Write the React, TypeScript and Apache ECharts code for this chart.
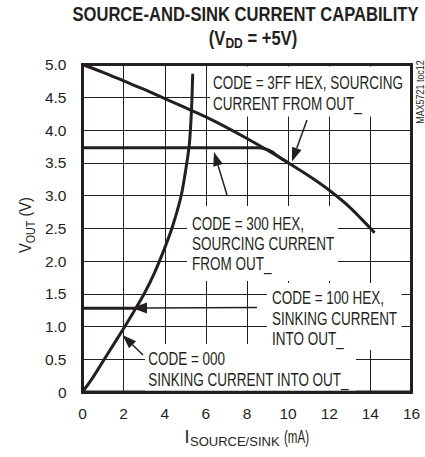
import React, { useEffect, useRef } from "react";
import * as echarts from "echarts";

const FONT = "'Liberation Sans', Arial, sans-serif";
const INK = "#231f20";

// Axis ranges
const xRange = [0, 16];
const yRange = [0, 5];

// CODE = 3FF HEX, sourcing current
const code3FF_I = [0, 1, 2, 3, 4, 5, 6, 7, 8, 9, 10, 11, 12, 13, 14, 14.2];
const code3FF_V = [5.0, 4.88, 4.75, 4.62, 4.48, 4.34, 4.2, 4.04, 3.87, 3.69, 3.5, 3.3, 3.08, 2.82, 2.5, 2.43];

// CODE = 300 HEX, sourcing current
const code300_I = [0, 8.5, 8.9, 9.2, 9.5, 9.8, 10.0];
const code300_V = [3.73, 3.73, 3.71, 3.67, 3.6, 3.54, 3.5];

// CODE = 100 HEX, sinking current
const code100_I = [0, 2.6];
const code100_V = [1.28, 1.28];

// CODE = 000, sinking current
const code000_I = [0, 0.5, 1, 1.5, 2, 2.5, 3, 3.5, 4, 4.4, 4.8, 5.05, 5.2, 5.3, 5.36];
const code000_V = [0, 0.22, 0.47, 0.72, 0.97, 1.23, 1.5, 1.82, 2.2, 2.55, 3.0, 3.45, 3.8, 4.3, 4.86];

const zip = (a: number[], b: number[]) => a.map((v, i) => [v, b[i]]);

function arrow(x1: number, y1: number, x2: number, y2: number, len = 14, half = 5) {
  const dx = x2 - x1, dy = y2 - y1;
  const d = Math.hypot(dx, dy);
  const ux = dx / d, uy = dy / d;
  const bx = x2 - ux * len, by = y2 - uy * len;
  const nx = -uy, ny = ux;
  return [
    { type: "line", z: 100, shape: { x1, y1, x2: bx, y2: by }, style: { stroke: INK, lineWidth: 1.5 } },
    {
      type: "polygon", z: 100,
      shape: { points: [[x2, y2], [bx + nx * half, by + ny * half], [bx - nx * half, by - ny * half]] },
      style: { fill: INK },
    },
  ];
}

function whiteBox(x: number, y: number, w: number, h: number) {
  return { type: "rect", z: 1, shape: { x, y, width: w, height: h }, style: { fill: "#fff" } };
}

function label(x: number, y: number, text: string, lh = 20.8) {
  return {
    type: "text", z: 100, x, y: y - lh / 2, scaleX: 0.75,
    style: { text, fill: INK, fontFamily: FONT, fontSize: 18, lineHeight: lh, textVerticalAlign: "top", textAlign: "left" },
  };
}

export default function App() {
  const ref = useRef<HTMLDivElement>(null);
  useEffect(() => {
    if (!ref.current) return;
    const chart = echarts.init(ref.current, null, { renderer: "svg" });
    const lineSeries = (name: string, data: number[][]) => ({
      name, type: "line", data, showSymbol: false, smooth: 0.3, z: 5,
      lineStyle: { color: INK, width: 3 }, itemStyle: { color: INK },
    });
    chart.setOption({
      animation: false,
      backgroundColor: "#fff",
      grid: { left: 82.5, right: 13.5, top: 64.5, bottom: 65, show: true, borderColor: INK, borderWidth: 3 },
      xAxis: {
        type: "value", min: xRange[0], max: xRange[1], interval: 2,
        axisLine: { show: true, lineStyle: { color: INK, width: 3 } },
        axisTick: { show: true, inside: true, length: 5, lineStyle: { color: INK } },
        splitLine: { show: true, lineStyle: { color: INK, width: 1 } },
        axisLabel: { color: INK, fontFamily: FONT, fontSize: 15.5, margin: 13 },
      },
      yAxis: {
        type: "value", min: yRange[0], max: yRange[1], interval: 0.5,
        axisLine: { show: true, lineStyle: { color: INK, width: 3 } },
        axisTick: { show: true, inside: true, length: 5, lineStyle: { color: INK } },
        splitLine: { show: true, lineStyle: { color: INK, width: 1 } },
        axisLabel: {
          color: INK, fontFamily: FONT, fontSize: 15.5, margin: 16,
          formatter: (v: number) => (v === 0 ? "0" : v.toFixed(1)),
        },
      },
      series: [
        lineSeries("CODE = 3FF HEX", zip(code3FF_I, code3FF_V)),
        lineSeries("CODE = 300 HEX", zip(code300_I, code300_V)),
        lineSeries("CODE = 100 HEX", zip(code100_I, code100_V)),
        lineSeries("CODE = 000", zip(code000_I, code000_V)),
      ],
      graphic: [
        // title
        {
          type: "text", z: 100, x: 245.5, y: 14, scaleX: 0.83,
          style: { text: "SOURCE-AND-SINK CURRENT CAPABILITY", fill: INK, fontFamily: FONT, fontWeight: "bold", fontSize: 20, textAlign: "center", textVerticalAlign: "middle" },
        },
        {
          type: "text", z: 100, x: 253, y: 38, scaleX: 0.83,
          style: {
            text: "{a|(V}{b|DD}{a| = +5V)}", textAlign: "center", textVerticalAlign: "middle",
            rich: {
              a: { fill: INK, fontFamily: FONT, fontWeight: "bold", fontSize: 20, verticalAlign: "bottom" },
              b: { fill: INK, fontFamily: FONT, fontWeight: "bold", fontSize: 14.5, verticalAlign: "bottom", padding: [0, 0, -3, 0] },
            },
          },
        },
        // y axis name
        {
          type: "text", z: 100, x: 25, y: 225, rotation: Math.PI / 2, scaleX: 0.86,
          style: {
            text: "{a|V}{b|OUT}{a| (V)}", textAlign: "center", textVerticalAlign: "middle",
            rich: {
              a: { fill: INK, fontFamily: FONT, fontSize: 17, verticalAlign: "bottom" },
              b: { fill: INK, fontFamily: FONT, fontSize: 12.5, verticalAlign: "bottom", padding: [0, 0, -3, 0] },
            },
          },
        },
        // x axis name
        {
          type: "text", z: 100, x: 184.5, y: 446,
          style: { text: "I", fill: INK, fontFamily: FONT, fontSize: 18, textAlign: "left", textVerticalAlign: "bottom" },
        },
        {
          type: "text", z: 100, x: 190, y: 448,
          style: { text: "SOURCE/SINK", fill: INK, fontFamily: FONT, fontSize: 13, textAlign: "left", textVerticalAlign: "bottom" },
        },
        {
          type: "text", z: 100, x: 284, y: 446, scaleX: 0.66,
          style: { text: "(mA)", fill: INK, fontFamily: FONT, fontSize: 17.5, textAlign: "left", textVerticalAlign: "bottom" },
        },
        // figure id
        {
          type: "text", z: 100, x: 420.5, y: 92, rotation: Math.PI / 2, scaleX: 0.85,
          style: { text: "MAX5721 toc12", fill: INK, fontFamily: FONT, fontSize: 10.5, textAlign: "center", textVerticalAlign: "middle" },
        },
        // white boxes breaking the grid
        whiteBox(210, 66.5, 200, 50),
        whiteBox(187, 206, 151, 75),
        whiteBox(267, 283, 134.5, 67),
        whiteBox(145, 344, 211, 46.5),
        // annotations
        label(213, 82.5, "CODE = 3FF HEX, SOURCING\nCURRENT FROM OUT_"),
        label(192, 223.3, "CODE = 300 HEX,\nSOURCING CURRENT\nFROM OUT_", 20.2),
        label(272, 297.5, "CODE = 100 HEX,\nSINKING CURRENT\nINTO OUT_"),
        label(148.3, 358.5, "CODE = 000\nSINKING CURRENT INTO OUT_", 21.5),
        ...arrow(307, 120, 292, 161.5),
        ...arrow(227, 195, 214, 152),
        ...arrow(257, 307.5, 132, 308, 15, 5.5),
        ...arrow(143, 355, 122.5, 335),
      ],
    });
    return () => chart.dispose();
  }, []);
  return <div ref={ref} style={{ position: "absolute", left: 0, top: 0, width: 425, height: 457 }} />;
}
